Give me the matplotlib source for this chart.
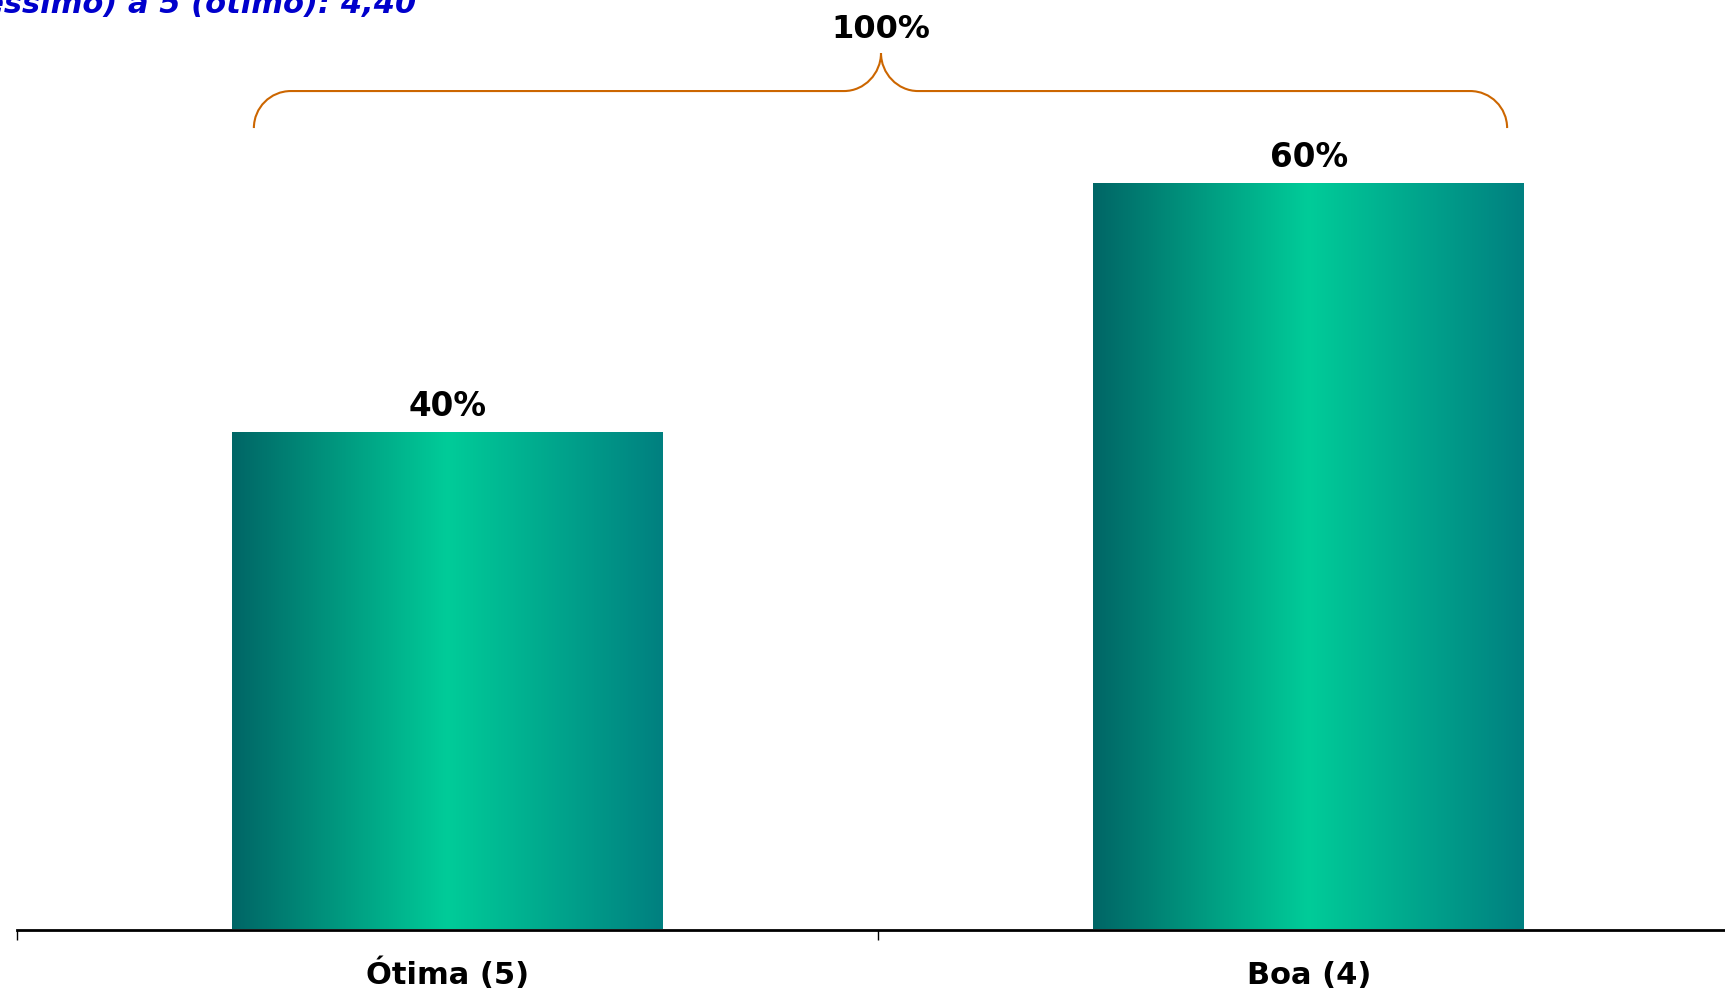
import numpy as np
import matplotlib.pyplot as plt
from matplotlib.colors import LinearSegmentedColormap
from matplotlib.path import Path
from matplotlib.patches import PathPatch

categories = ['Ótima (5)', 'Boa (4)']
values = [40, 60]
total_label = '100%'
title_text = 'Nota média de 1 (péssimo) a 5 (ótimo): 4,40'

bar_cmap = LinearSegmentedColormap.from_list(
    'teal', ['#006666', '#00CC99', '#008080'])
brace_color = '#CC6600'

fig = plt.figure(figsize=(17.25, 9.89), dpi=100)
ax = fig.add_axes([16.5 / 1725, 59.5 / 989, 1723 / 1725, 929.5 / 989])
ax.set_xlim(-0.5, len(categories) - 0.5)
ax.set_ylim(0, 929.5 / 12.44)

x = np.arange(len(categories))
width = 0.5
bars = ax.bar(x, values, width=width, color='none', zorder=2)

# gradient fill clipped to each bar
grad = np.linspace(0, 1, 256).reshape(1, -1)
for b in bars:
    x0, y0 = b.get_x(), b.get_y()
    im = ax.imshow(grad, cmap=bar_cmap, aspect='auto', zorder=1,
                   extent=[x0, x0 + b.get_width(), y0, y0 + b.get_height()])
    im.set_clip_path(b)
ax.set_xlim(-0.5, len(categories) - 0.5)
ax.set_ylim(0, 929.5 / 12.44)

for xi, v in zip(x, values):
    ax.annotate(f'{v}%', (xi, v), xytext=(0, 11.5), textcoords='offset points',
                ha='center', va='baseline', fontsize=23.5, fontweight='bold',
                color='black')

# brace over both bars
px_x = 861.5   # pixels per category
px_y = 12.44   # pixels per percent
rx, ry = 37 / px_x, 37 / px_y
k = 0.5523
xl = x[0] - width / 2 + 22 / px_x
xr = x[-1] + width / 2 - 17 / px_x
xc = (x[0] + x[-1]) / 2 + 3 / px_x
yh = max(values) + 7.4
yb = yh - ry
yt = yh + 38 / px_y
verts = [
    (xl, yb),
    (xl, yb + k * ry), (xl + rx - k * rx, yh), (xl + rx, yh),
    (xc - rx, yh),
    (xc - rx + k * rx, yh), (xc, yt - k * ry), (xc, yt),
    (xc, yt - k * ry), (xc + rx - k * rx, yh), (xc + rx, yh),
    (xr - rx, yh),
    (xr - rx + k * rx, yh), (xr, yb + k * ry), (xr, yb),
]
codes = ([Path.MOVETO] + [Path.CURVE4] * 3 + [Path.LINETO] + [Path.CURVE4] * 6
         + [Path.LINETO] + [Path.CURVE4] * 3)
ax.add_patch(PathPatch(Path(verts, codes), facecolor='none',
                       edgecolor=brace_color, lw=1.5, clip_on=False, zorder=3))
ax.annotate(total_label, (xc, yt), xytext=(0, 11), textcoords='offset points',
            ha='center', va='baseline', fontsize=23, fontweight='bold',
            color='black', annotation_clip=False)

# axis: ticks at category boundaries, labels at centres
for s in ['top', 'right', 'left']:
    ax.spines[s].set_visible(False)
ax.spines['bottom'].set_linewidth(2)
ax.spines['bottom'].set_zorder(4)
ax.set_yticks([])
ax.set_xticks(np.arange(-0.5, len(categories), 1.0))
ax.set_xticklabels([])
ax.tick_params(axis='x', which='major', direction='out', length=7.5, width=1)
ax.set_xticks(x, minor=True)
ax.set_xticklabels(categories, minor=True, fontsize=22, fontweight='bold')
ax.tick_params(axis='x', which='minor', length=0, pad=39)
for lab in ax.get_xticklabels(minor=True):
    lab.set_verticalalignment('baseline')

fig.text(416 / 1725, 1 - 13 / 989, title_text, ha='right', va='baseline',
         fontsize=22, fontweight='bold', fontstyle='italic', color='#0000CC')

fig.savefig('out.png', dpi=100)
